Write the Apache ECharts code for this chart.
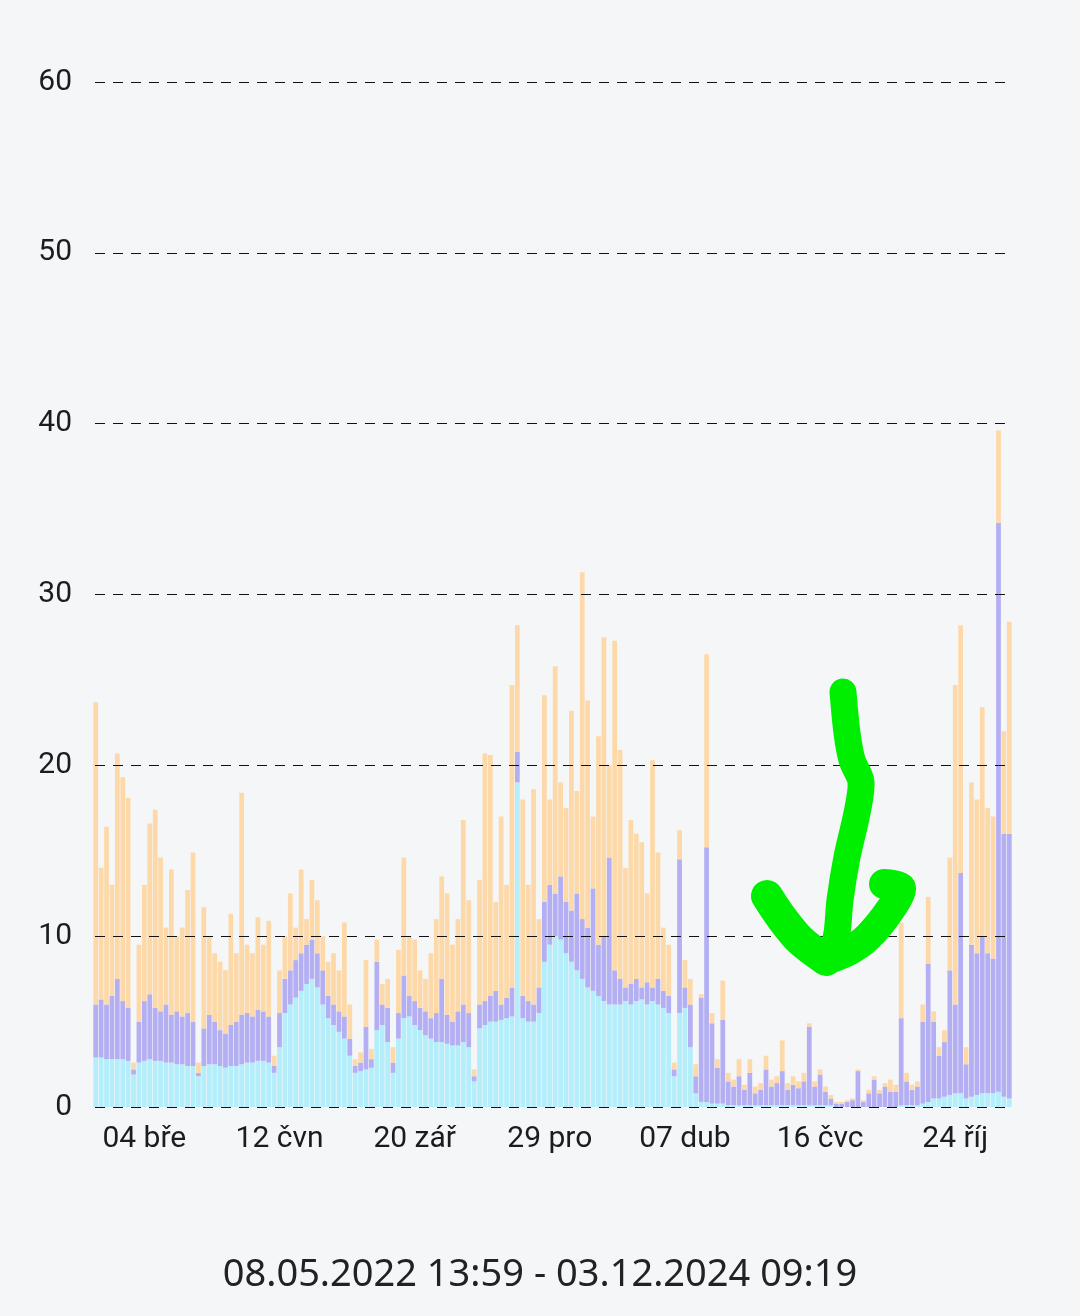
<!DOCTYPE html>
<html>
<head>
<meta charset="utf-8">
<script src="https://cdn.jsdelivr.net/npm/echarts@6/dist/echarts.min.js"></script>
<style>
  html, body { margin: 0; padding: 0; background: #f5f6f8; }
  #chart { width: 1080px; height: 1316px; }
</style>
</head>
<body>
<div id="chart"></div>
<script>
// 4-day buckets starting 27.01.2023
var startDate = new Date(2023, 0, 27);
var stepDays = 4;

var tickIndex = [9, 34, 59, 84, 109, 134, 159];
var tickLabels = ['04 bře', '12 čvn', '20 zář', '29 pro', '07 dub', '16 čvc', '24 říj'];
var yTicks = [0, 10, 20, 30, 40, 50, 60];
var rangeText = '08.05.2022 13:59 - 03.12.2024 09:19';

var cyan = [2.9,2.9,2.8,2.8,2.8,2.8,2.7,1.9,2.6,2.7,
    2.8,2.7,2.7,2.6,2.6,2.5,2.5,2.4,2.4,1.8,
    2.4,2.5,2.5,2.4,2.3,2.4,2.4,2.5,2.6,2.6,
    2.7,2.7,2.6,2.0,3.5,5.5,6.0,6.4,6.8,7.2,
    7.5,7.0,6.0,5.2,4.8,4.4,4.0,3.0,2.0,2.1,
    2.2,2.3,4.5,4.8,3.8,2.0,4.0,5.2,5.3,4.8,
    4.5,4.2,4.0,3.8,3.8,3.7,3.6,3.6,3.8,3.5,
    1.5,4.6,4.8,5.0,5.0,5.1,5.2,5.3,19.0,5.2,
    5.0,5.0,5.5,8.5,9.5,10.0,9.8,9.0,8.5,8.0,
    7.5,7.0,6.8,6.5,6.2,6.0,6.0,6.0,6.2,6.0,
    6.2,6.3,6.0,6.2,6.0,5.8,5.5,1.8,5.5,5.8,
    3.5,0.8,0.3,0.3,0.2,0.2,0.2,0.1,0.1,0.1,
    0.1,0.1,0.1,0.1,0.1,0.1,0.1,0.1,0.1,0.1,
    0.1,0.1,0.1,0.1,0.1,0.1,0.1,0,0,0,
    0,0,0,0,0,0,0,0,0,0.1,
    0.1,0.1,0.1,0.2,0.3,0.5,0.5,0.6,0.7,0.8,
    0.8,0.5,0.6,0.7,0.8,0.8,0.8,0.9,0.6,0.5];

var purple = [3.1,3.4,3.2,3.7,4.7,3.4,3.1,0.3,2.4,3.5,
    3.8,3.1,2.9,3.4,2.8,3.1,2.8,3.1,2.6,0.2,
    2.2,2.9,2.5,2.1,2.0,2.4,2.6,2.9,2.9,2.7,
    3.0,2.9,2.7,0.4,2.0,2.0,2.0,2.2,2.2,2.3,
    2.3,2.0,2.0,1.3,1.2,1.2,1.3,1.0,0.4,0.5,
    2.5,0.5,4.0,1.2,2.0,0.6,1.5,2.5,1.2,1.4,
    1.3,1.4,1.2,1.7,3.7,1.7,1.4,2.0,2.2,2.0,
    0.3,1.4,1.4,1.5,1.8,0.9,1.2,1.7,1.8,1.3,
    1.2,1.0,1.5,3.5,3.5,2.5,3.7,3.0,3.0,4.5,
    3.5,3.5,6.0,3.0,3.8,8.6,2.0,1.5,0.8,1.2,
    1.3,0.7,1.3,0.8,1.5,1.0,1.0,0.4,9.0,1.2,
    2.5,1.0,6.1,14.9,4.7,2.1,4.9,1.4,1.1,1.7,
    0.9,1.9,0.7,0.9,2.1,1.1,1.3,2.0,0.9,1.2,
    1.0,1.4,4.6,1.1,1.8,0.8,0.4,0.2,0.2,0.3,
    0.4,2.1,0.3,0.8,1.6,0.8,1.2,0.9,0.9,5.1,
    1.4,0.9,1.1,4.8,8.1,4.5,2.5,3.2,7.3,5.2,
    12.9,2.0,8.9,8.3,9.2,8.2,7.9,33.3,15.4,15.5];

var orange = [17.7,7.7,10.4,6.5,13.2,13.1,12.3,0.4,4.5,6.8,
    10.0,11.6,9.0,4.5,8.5,4.4,5.2,7.2,9.9,0.6,
    7.1,4.6,4.0,4.0,3.7,6.5,4.0,13.0,4.0,3.7,
    5.4,3.9,5.6,0.6,2.5,2.5,4.5,1.9,4.9,1.5,
    3.5,3.1,2.0,2.0,3.0,2.4,5.5,2.0,0.4,0.6,
    3.9,0.6,1.3,1.2,1.7,0.9,3.7,6.9,3.5,3.6,
    2.2,1.9,3.8,5.5,6.0,7.1,4.5,5.4,10.8,6.6,
    0.4,7.3,14.5,14.1,5.2,11.0,6.6,17.7,7.4,11.5,
    6.8,12.6,4.0,12.1,5.0,13.3,5.5,5.5,11.7,6.0,
    20.3,13.3,4.2,12.2,17.5,5.4,19.3,13.4,7.0,9.6,
    8.5,8.5,5.2,13.3,7.4,3.7,3.0,0.4,1.7,1.6,
    1.5,0.7,0.2,11.3,0.6,0.5,2.3,0.5,0.4,1.0,
    0.3,0.8,0.4,0.4,0.8,0.4,0.4,1.8,0.4,0.5,
    0.4,0.5,0.2,0.3,0.3,0.3,0.2,0.1,0.1,0.1,
    0.1,0.1,0.1,0.2,0.2,0.2,0.2,0.7,0.4,5.6,
    0.5,0.3,0.3,1.0,3.9,0.6,0.5,0.7,6.6,18.7,
    14.5,1.0,9.5,9.0,13.4,8.5,8.3,5.4,6.0,12.4];

function pad(n) { return n < 10 ? '0' + n : '' + n; }

var categories = [];
for (var i = 0; i < cyan.length; i++) {
    var d = new Date(startDate.getTime());
    d.setDate(d.getDate() + i * stepDays);
    categories.push(pad(d.getDate()) + '.' + pad(d.getMonth() + 1) + '.' + d.getFullYear());
}

var chart = echarts.init(document.getElementById('chart'));

function barSeries(name, data, color) {
    return {
        name: name,
        type: 'bar',
        stack: 'total',
        data: data,
        barCategoryGap: '12%',
        itemStyle: { color: color },
        emphasis: { disabled: true },
        animation: false
    };
}

var series = [
    barSeries('a', cyan, '#b4eefb'),
    barSeries('b', purple, '#b3aff2'),
    barSeries('c', orange, '#fdd9aa')
];
series[2].markLine = {
    silent: true,
    symbol: 'none',
    label: { show: false },
    lineStyle: { color: '#111', width: 1, type: [10, 8] },
    data: yTicks.map(function(v) {
        return [{ yAxis: v, x: 95 }, { yAxis: v, x: 1005 }];
    })
};

chart.setOption({
    backgroundColor: '#f5f6f8',
    animation: false,
    title: {
        text: rangeText,
        left: 'center',
        top: 1251,
        textStyle: {
            fontFamily: 'Noto Sans',
            fontSize: 38,
            fontWeight: 'normal',
            color: '#222'
        }
    },
    grid: { left: 93, top: 82, width: 919, height: 1025 },
    xAxis: {
        type: 'category',
        data: categories,
        axisLine: { show: false },
        axisTick: { show: false },
        axisLabel: {
            margin: 17,
            fontFamily: 'Roboto',
            fontSize: 30,
            color: '#1c1c1c',
            interval: function(idx) { return tickIndex.indexOf(idx) >= 0; },
            formatter: function(v, idx) { return tickLabels[tickIndex.indexOf(idx)] || ''; }
        }
    },
    yAxis: {
        type: 'value',
        min: 0,
        max: 60,
        interval: 10,
        splitLine: { show: false },
        axisLine: { show: false },
        axisTick: { show: false },
        axisLabel: {
            margin: 21,
            fontFamily: 'Roboto',
            fontSize: 30,
            color: '#1c1c1c'
        }
    },
    series: series,
    graphic: [
        {
            type: 'polyline',
            z: 100,
            shape: {
                points: [[843, 692], [847, 733], [852, 760], [861, 782], [857, 813], [847, 857], [840, 900], [837, 933], [831, 957]],
                smooth: 0.3
            },
            style: { stroke: '#00ef00', lineWidth: 27, lineCap: 'round', lineJoin: 'round', fill: null }
        },
        {
            type: 'polyline',
            z: 100,
            shape: {
                points: [[767, 896], [781, 917], [800, 940], [826, 960]],
                smooth: 0.3
            },
            style: { stroke: '#00ef00', lineWidth: 32, lineCap: 'round', lineJoin: 'round', fill: null }
        },
        {
            type: 'polyline',
            z: 100,
            shape: {
                points: [[826, 960], [850, 950], [868, 937], [890, 910], [901, 888], [884, 884]],
                smooth: 0.3
            },
            style: { stroke: '#00ef00', lineWidth: 30, lineCap: 'round', lineJoin: 'round', fill: null }
        }
    ]
});
</script>
</body>
</html>
